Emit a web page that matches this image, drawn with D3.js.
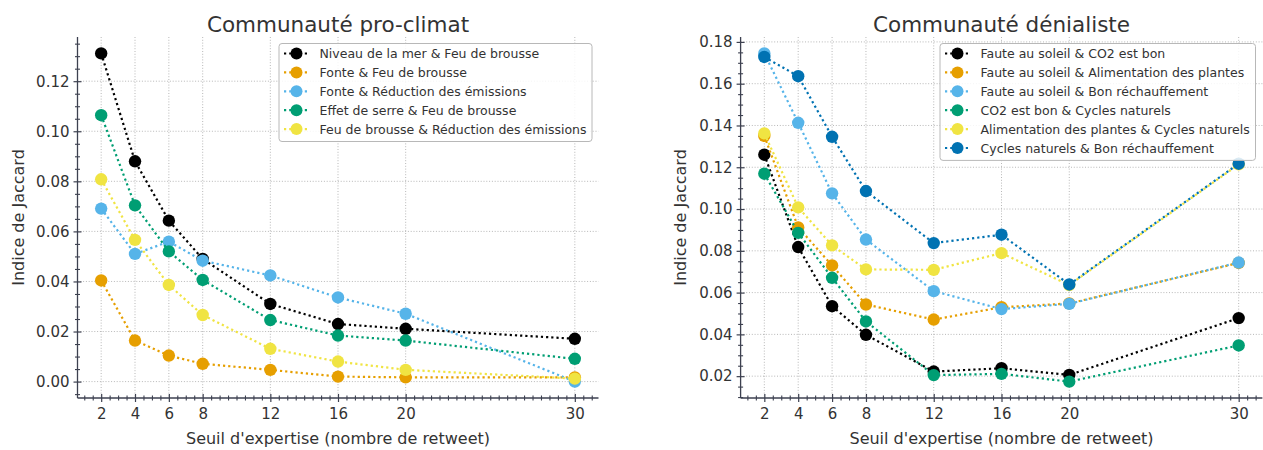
<!DOCTYPE html>
<html><head><meta charset="utf-8">
<script src="https://cdn.jsdelivr.net/npm/d3@7/dist/d3.min.js"></script>
<style>
body{margin:0;background:#fff}
svg{display:block}
text{font-family:"DejaVu Sans",sans-serif;fill:#333}
</style>
</head><body>
<svg id="chart" width="1263" height="450"></svg>
<script>
// ---------- data ----------
const thresholds = [2, 4, 6, 8, 12, 16, 20, 30];
const xTickLabels = ["2", "4", "6", "8", "12", "16", "20", "30"];

// Communauté pro-climat
const proTitle = "Communauté pro-climat";
const proNames = [
  "Niveau de la mer & Feu de brousse",
  "Fonte & Feu de brousse",
  "Fonte & Réduction des émissions",
  "Effet de serre & Feu de brousse",
  "Feu de brousse & Réduction des émissions"
];
const proNiveauFeu     = [0.1311, 0.0880, 0.0643, 0.0490, 0.0310, 0.0230, 0.0211, 0.0171];
const proFonteFeu      = [0.0404, 0.0164, 0.0104, 0.0071, 0.0047, 0.0020, 0.0017, 0.0017];
const proFonteReduc    = [0.0691, 0.0510, 0.0559, 0.0483, 0.0424, 0.0336, 0.0271, 0.0000];
const proSerreFeu      = [0.1064, 0.0704, 0.0520, 0.0406, 0.0246, 0.0184, 0.0164, 0.0091];
const proFeuReduc      = [0.0808, 0.0566, 0.0386, 0.0266, 0.0131, 0.0080, 0.0047, 0.0012];
const proYTicks = [0.00, 0.02, 0.04, 0.06, 0.08, 0.10, 0.12];

// Communauté dénialiste
const denTitle = "Communauté dénialiste";
const denNames = [
  "Faute au soleil & CO2 est bon",
  "Faute au soleil & Alimentation des plantes",
  "Faute au soleil & Bon réchauffement",
  "CO2 est bon & Cycles naturels",
  "Alimentation des plantes & Cycles naturels",
  "Cycles naturels & Bon réchauffement"
];
const denSoleilCO2     = [0.1260, 0.0818, 0.0535, 0.0398, 0.0222, 0.0238, 0.0206, 0.0478];
const denSoleilAlim    = [0.1350, 0.0912, 0.0730, 0.0543, 0.0471, 0.0530, 0.0548, 0.0742];
const denSoleilBon     = [0.1745, 0.1413, 0.1075, 0.0854, 0.0607, 0.0521, 0.0546, 0.0744];
const denCO2Cycles     = [0.1169, 0.0886, 0.0671, 0.0462, 0.0205, 0.0211, 0.0174, 0.0347];
const denAlimCycles    = [0.1362, 0.1008, 0.0826, 0.0711, 0.0709, 0.0789, 0.0636, 0.1214];
const denCyclesBon     = [0.1728, 0.1636, 0.1346, 0.1086, 0.0837, 0.0877, 0.0639, 0.1217];
const denYTicks = [0.02, 0.04, 0.06, 0.08, 0.10, 0.12, 0.14, 0.16, 0.18];

const xLabel = "Seuil d'expertise (nombre de retweet)";
const yLabel = "Indice de Jaccard";

// ---------- styles ----------
const palette = ["#000000", "#E69F00", "#56B4E9", "#009E73", "#F0E442", "#0072B2"];
const spineColor = "#3d4150";

const svg = d3.select("#chart");

function drawPanel(cfg) {
  const g = svg.append("g");
  const all = cfg.series.flat();
  const [mn, mx] = d3.extent(all);
  const pad = (mx - mn) * 0.05;
  const xPad = (d3.max(thresholds) - d3.min(thresholds)) * 0.05;

  const x = d3.scaleLinear()
    .domain([d3.min(thresholds) - xPad, d3.max(thresholds) + xPad])
    .range([cfg.left, cfg.right]);
  const y = d3.scaleLinear()
    .domain([mn - pad, mx + pad])
    .range([cfg.bottom, cfg.top]);

  // grid
  const grid = g.append("g");
  grid.selectAll("line.gx").data(thresholds).join("line")
    .attr("x1", d => x(d)).attr("x2", d => x(d))
    .attr("y1", cfg.top).attr("y2", cfg.bottom)
    .attr("stroke", "#b0b0b0").attr("stroke-width", 0.9).attr("stroke-dasharray", "1,1.8");
  grid.selectAll("line.gy").data(cfg.yTicks).join("line")
    .attr("x1", cfg.left).attr("x2", cfg.right)
    .attr("y1", d => y(d)).attr("y2", d => y(d))
    .attr("stroke", "#b0b0b0").attr("stroke-width", 0.9).attr("stroke-dasharray", "1,1.8");

  // axes via d3
  const xMinor = d3.range(Math.ceil(x.domain()[0] * 2) / 2, x.domain()[1], 0.5)
    .filter(v => !thresholds.includes(v));
  const yd = y.domain();
  const yMinor = d3.range(Math.ceil(yd[0] / 0.005) * 0.005, yd[1], 0.005)
    .filter(v => !cfg.yTicks.some(t => Math.abs(t - v) < 1e-9));

  const xAxisMinor = d3.axisBottom(x).tickValues(xMinor).tickSize(5).tickFormat("");
  const xAxis = d3.axisBottom(x).tickValues(thresholds).tickSize(8)
    .tickFormat((d, i) => xTickLabels[i]).tickPadding(6);
  const yAxisMinor = d3.axisLeft(y).tickValues(yMinor).tickSize(5).tickFormat("");
  const yAxis = d3.axisLeft(y).tickValues(cfg.yTicks).tickSize(8)
    .tickFormat(d3.format(".2f")).tickPadding(4);

  const gxm = g.append("g").attr("transform", `translate(0,${cfg.bottom - 2.5})`).call(xAxisMinor);
  gxm.select(".domain").remove();
  gxm.selectAll(".tick line").attr("stroke", spineColor).attr("stroke-width", 1.1);
  const gx = g.append("g").attr("transform", `translate(0,${cfg.bottom - 4})`).call(xAxis);
  gx.select(".domain").remove();
  gx.selectAll(".tick line").attr("stroke", spineColor).attr("stroke-width", 1.2);
  gx.selectAll(".tick text").attr("fill", "#333").style("font-size", "15px").attr("dy", "0.71em");

  const gym = g.append("g").attr("transform", `translate(${cfg.left + 2.5},0)`).call(yAxisMinor);
  gym.select(".domain").remove();
  gym.selectAll(".tick line").attr("stroke", spineColor).attr("stroke-width", 1.1);
  const gy = g.append("g").attr("transform", `translate(${cfg.left + 4},0)`).call(yAxis);
  gy.select(".domain").remove();
  gy.selectAll(".tick line").attr("stroke", spineColor).attr("stroke-width", 1.2);
  gy.selectAll(".tick text").attr("fill", "#333").style("font-size", "15px");

  // spines
  g.append("line").attr("x1", cfg.left).attr("x2", cfg.right).attr("y1", cfg.bottom).attr("y2", cfg.bottom)
    .attr("stroke", spineColor).attr("stroke-width", 1.3);
  g.append("line").attr("x1", cfg.left).attr("x2", cfg.left).attr("y1", cfg.top).attr("y2", cfg.bottom)
    .attr("stroke", spineColor).attr("stroke-width", 1.3);

  // series
  const line = d3.line().x((d, i) => x(thresholds[i])).y(d => y(d));
  cfg.series.forEach((vals, k) => {
    const s = g.append("g");
    s.append("path").attr("d", line(vals)).attr("fill", "none")
      .attr("stroke", palette[k]).attr("stroke-width", 2.2).attr("stroke-dasharray", "2.2,3");
    s.selectAll("circle").data(vals).join("circle")
      .attr("cx", (d, i) => x(thresholds[i])).attr("cy", d => y(d)).attr("r", 6.2)
      .attr("fill", palette[k]);
  });

  // title & labels
  const cx = (cfg.left + cfg.right) / 2;
  g.append("text").attr("x", cx).attr("y", 31.5).attr("text-anchor", "middle")
    .style("font-size", "21.5px").text(cfg.title);
  g.append("text").attr("x", cx).attr("y", 444)
    .attr("text-anchor", "middle").style("font-size", "16px").text(xLabel);
  g.append("text").attr("transform", `translate(${cfg.ylabX},${(cfg.top + cfg.bottom) / 2}) rotate(-90)`)
    .attr("text-anchor", "middle").attr("dy", "0.35em").style("font-size", "16px").text(yLabel);

  // legend
  const L = cfg.legend;
  const rowH = 18.9;
  const lg = g.append("g");
  lg.append("rect").attr("x", L.x).attr("y", L.y).attr("width", L.w)
    .attr("height", cfg.names.length * rowH + 3.5).attr("rx", 3)
    .attr("fill", "rgba(255,255,255,0.85)").attr("stroke", "#b8b8b8").attr("stroke-width", 1);
  cfg.names.forEach((name, k) => {
    const yy = L.y + 10 + k * rowH;
    lg.append("line").attr("x1", L.x + 5).attr("x2", L.x + 30).attr("y1", yy).attr("y2", yy)
      .attr("stroke", palette[k]).attr("stroke-width", 2.2).attr("stroke-dasharray", "2.2,3");
    lg.append("circle").attr("cx", L.x + 17.5).attr("cy", yy).attr("r", 6).attr("fill", palette[k]);
    lg.append("text").attr("x", L.x + 40.5).attr("y", yy).attr("dy", "0.36em")
      .style("font-size", "12.5px").text(name);
  });
}

drawPanel({
  left: 77.5, right: 598.5, top: 37, bottom: 398, ylabX: 18.5,
  title: proTitle, names: proNames,
  series: [proNiveauFeu, proFonteFeu, proFonteReduc, proSerreFeu, proFeuReduc],
  yTicks: proYTicks,
  legend: { x: 279, y: 43.5, w: 313 }
});
drawPanel({
  left: 740.6, right: 1262.4, top: 37, bottom: 398, ylabX: 680,
  title: denTitle, names: denNames,
  series: [denSoleilCO2, denSoleilAlim, denSoleilBon, denCO2Cycles, denAlimCycles, denCyclesBon],
  yTicks: denYTicks,
  legend: { x: 940, y: 43.5, w: 315.5 }
});
</script>
</body></html>
